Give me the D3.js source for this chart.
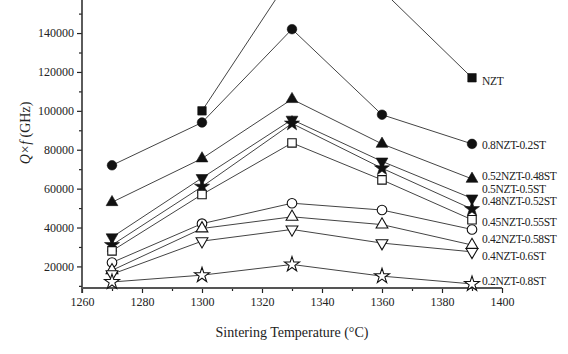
<!DOCTYPE html>
<html>
<head>
<meta charset="utf-8">
<script src="https://cdn.jsdelivr.net/npm/d3@7"></script>
<style>
  html, body { margin: 0; padding: 0; background: #fff; }
  svg { display: block; font-family: "Liberation Serif", "DejaVu Serif", serif; }
</style>
</head>
<body>
<svg id="chart" width="568" height="354"></svg>
<script>
// ---- data ----
const temps = [1270, 1300, 1330, 1360, 1390];
const seriesNames = ["NZT", "0.8NZT-0.2ST", "0.52NZT-0.48ST", "0.5NZT-0.5ST", "0.48NZT-0.52ST",
  "0.45NZT-0.55ST", "0.42NZT-0.58ST", "0.4NZT-0.6ST", "open-dtri", "0.2NZT-0.8ST"];
const nzt      = [null, 100000, 170000, 162000, 117000];
const s08      = [72000, 94000, 142000, 98000, 83000];
const s052     = [53000, 75500, 106000, 83000, 65000];
const s050     = [35000, 65500, 95500, 74000, 55000];
const s048     = [31000, 61000, 93500, 70500, 49500];
const sSquare  = [28000, 57000, 83500, 64500, 44000];
const sCircle  = [22000, 42000, 52500, 49000, 39000];
const sTri     = [18000, 39500, 45500, 41500, 31000];
const sDtri    = [16000, 33000, 39000, 32000, 27500];
const s020     = [12000, 15500, 21000, 15000, 11000];
const allValues = [nzt, s08, s052, s050, s048, sSquare, sCircle, sTri, sDtri, s020];
const markerTypes = ["square", "circle", "triangle", "dtriangle", "star",
  "square", "circle", "triangle", "dtriangle", "star"];
const markerFilled = [true, true, true, true, true, false, false, false, false, false];

const labelTexts  = ["NZT", "0.8NZT-0.2ST", "0.52NZT-0.48ST", "0.5NZT-0.5ST", "0.48NZT-0.52ST",
  "0.45NZT-0.55ST", "0.42NZT-0.58ST", "0.4NZT-0.6ST", "0.2NZT-0.8ST"];
const labelValues = [115300, 82400, 66500, 60050, 53600, 42800, 34100, 25600, 12500];

const xMajorTicks = [1260, 1280, 1300, 1320, 1340, 1360, 1380, 1400];
const xMinorTicks = [1270, 1290, 1310, 1330, 1350, 1370, 1390];
const yMajorTicks = [20000, 40000, 60000, 80000, 100000, 120000, 140000];
const yMinorTicks = [10000, 30000, 50000, 70000, 90000, 110000, 130000, 150000];

// ---- scales ----
const svg = d3.select("#chart");
const x = d3.scaleLinear().domain([1260, 1400]).range([82, 502]);
const y = d3.scaleLinear().domain([8900, 157000]).range([288, 0]);

const ink = "#222";

// ---- axes ----
const yAxisMajor = d3.axisLeft(y).tickValues(yMajorTicks).tickSize(5).tickPadding(3).tickFormat(d3.format("d"));
const yAxisMinor = d3.axisLeft(y).tickValues(yMinorTicks).tickSize(3).tickFormat("");
const gy = svg.append("g").attr("transform", "translate(82,0)").call(yAxisMajor);
const gy2 = svg.append("g").attr("transform", "translate(82,0)").call(yAxisMinor);
[gy, gy2].forEach(g => {
  g.select(".domain").remove();
  g.selectAll("line").attr("stroke", ink).attr("stroke-width", 1.2);
  g.selectAll("text").attr("fill", ink).style("font-size", "12px")
    .style("font-family", "'Liberation Serif', serif");
});

const xAxisMajor = d3.axisBottom(x).tickValues(xMajorTicks).tickSize(5).tickPadding(4).tickFormat(d3.format("d"));
const xAxisMinor = d3.axisBottom(x).tickValues(xMinorTicks).tickSize(3).tickFormat("");
const gx = svg.append("g").attr("transform", "translate(0,288)").call(xAxisMajor);
const gx2 = svg.append("g").attr("transform", "translate(0,288)").call(xAxisMinor);
[gx, gx2].forEach(g => {
  g.select(".domain").remove();
  g.selectAll("line").attr("stroke", ink).attr("stroke-width", 1.2);
  g.selectAll("text").attr("fill", ink).style("font-size", "12px")
    .style("font-family", "'Liberation Serif', serif");
});

// axis lines
svg.append("line").attr("x1", 82).attr("x2", 82).attr("y1", 0).attr("y2", 293)
  .attr("stroke", "#333").attr("stroke-width", 1.6);
svg.append("line").attr("x1", 82).attr("x2", x(1400)).attr("y1", 288).attr("y2", 288)
  .attr("stroke", "#555").attr("stroke-width", 2);

// ---- axis titles ----
const yt = svg.append("text")
  .attr("transform", "translate(30,133) rotate(-90)")
  .attr("text-anchor", "middle")
  .attr("fill", ink)
  .style("font-size", "14px");
yt.append("tspan").style("font-style", "italic").text("Q×f");
yt.append("tspan").text(" (GHz)");

svg.append("text")
  .attr("x", 292).attr("y", 337)
  .attr("text-anchor", "middle")
  .attr("fill", ink)
  .style("font-size", "14px")
  .text("Sintering Temperature (°C)");

// ---- lines ----
const line = d3.line()
  .defined(d => d.v !== null)
  .x(d => x(d.t))
  .y(d => y(d.v));

const plot = svg.append("g");
allValues.forEach((vals, i) => {
  const pts = temps.map((t, j) => ({ t, v: vals[j] }));
  plot.append("path")
    .datum(pts)
    .attr("d", line)
    .attr("fill", "none")
    .attr("stroke", "#444")
    .attr("stroke-width", 1);
});

// ---- markers ----
const dTri = {
  draw(ctx, size) {
    const s = Math.sqrt(size * 4 / Math.sqrt(3));
    const h = s * Math.sqrt(3) / 2;
    ctx.moveTo(-s / 2, -h / 3);
    ctx.lineTo(s / 2, -h / 3);
    ctx.lineTo(0, 2 * h / 3);
    ctx.closePath();
  }
};
const uTri = {
  draw(ctx, size) {
    const s = Math.sqrt(size * 4 / Math.sqrt(3));
    const h = s * Math.sqrt(3) / 2;
    ctx.moveTo(-s / 2, h / 3);
    ctx.lineTo(s / 2, h / 3);
    ctx.lineTo(0, -2 * h / 3);
    ctx.closePath();
  }
};
const symbolFor = {
  square: [d3.symbolSquare, 72],
  circle: [d3.symbolCircle, 72],
  triangle: [uTri, 60],
  dtriangle: [dTri, 60],
  star: [d3.symbolStar, 70]
};

allValues.forEach((vals, i) => {
  const [type, size] = symbolFor[markerTypes[i]];
  const sym = d3.symbol().type(type).size(size);
  temps.forEach((t, j) => {
    if (vals[j] === null) return;
    plot.append("path")
      .attr("d", sym())
      .attr("transform", `translate(${x(t)},${y(vals[j])})`)
      .attr("fill", markerFilled[i] ? "#111" : "#fff")
      .attr("stroke", "#111")
      .attr("stroke-width", markerFilled[i] ? 0.6 : 1.1);
  });
});

// ---- end labels ----
labelTexts.forEach((txt, i) => {
  svg.append("text")
    .attr("x", 482)
    .attr("y", y(labelValues[i]))
    .attr("dy", "0.35em")
    .attr("fill", ink)
    .style("font-size", "11.5px")
    .style("letter-spacing", "-0.3px")
    .text(txt);
});
</script>
</body>
</html>
